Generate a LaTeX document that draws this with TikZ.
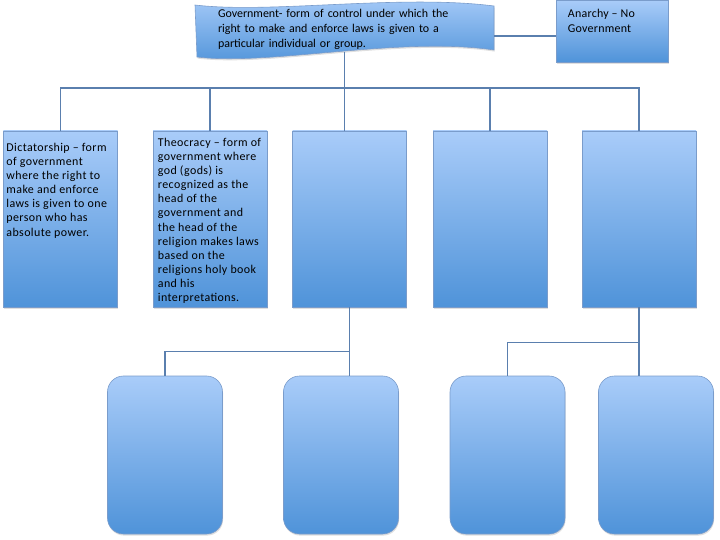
\documentclass[tikz,border=0pt]{standalone}
\usepackage{fontspec}
\setmainfont{Carlito}
\usetikzlibrary{shadows}
\definecolor{boxtop}{HTML}{A9CCF9}
\definecolor{boxbot}{HTML}{4F93D9}
\definecolor{boxedge}{HTML}{7A9CCB}
\definecolor{linkblue}{HTML}{5A7FAE}
\tikzset{
  formbox/.style={rectangle, draw=boxedge, line width=0.6bp, top color=boxtop, bottom color=boxbot,
    minimum width=114bp, minimum height=176bp, inner sep=0pt,
    drop shadow={opacity=0.25, shadow xshift=0.6bp, shadow yshift=-1.6bp}},
  subbox/.style={formbox, rounded corners=16bp, minimum width=115bp, minimum height=158bp},
  formtext/.style={anchor=north west, inner sep=0pt, align=left,
    font=\fontsize{12}{14.2}\selectfont\addfontfeatures{LetterSpace=3.5}},
  link/.style={draw=linkblue, line width=1.6bp}
}
\begin{document}
\begin{tikzpicture}[x=1bp,y=-1bp]
      \useasboundingbox (0,0) rectangle (720,540);
      \shade [top color=boxtop, bottom color=boxbot, draw=boxedge, line width=0.6bp,
        drop shadow={opacity=0.25, shadow xshift=0.6bp, shadow yshift=-1.6bp}]
        (195,5) .. controls (270,14) and (400,-6) .. (494,6) -- (494,50)
        .. controls (400,36) and (270,66) .. (197,57) -- cycle;
      \node [inner xsep=23bp, inner ysep=0pt, text width=253bp, minimum height=46bp, align=left,
        font=\fontsize{12}{15}\selectfont] (gov) at (344.5,29)
        {Government- form of control under which the\\right to make and enforce laws is given to a\\particular individual or group.};
      \node [formbox, minimum width=112bp, minimum height=62bp] (anarchy) at (612,31) {};
      \node [formtext, font=\fontsize{12}{15}\selectfont\addfontfeatures{LetterSpace=2}] (anarchytext)
        at ([shift={(12bp,-9.5bp)}]anarchy.north west) {Anarchy -- No\\Government};
      \node [formbox] (d1) at (60.5,219) {};
      \node [formbox] (d2) at (210,219) {};
      \node [formbox] (d3) at (349.5,219) {};
      \node [formbox] (d4) at (490,219) {};
      \node [formbox] (d5) at (639,219) {};
      \node [formtext] (t1) at ([shift={(3bp,-12bp)}]d1.north west)
        {Dictatorship -- form\\of government\\where the right to\\make and enforce\\laws is given to one\\person who has\\absolute power.};
      \node [formtext] (t2) at ([shift={(5bp,-7bp)}]d2.north west)
        {Theocracy -- form of\\government where\\god (gods) is\\recognized as the\\head of the\\government and\\the head of the\\religion makes laws\\based on the\\religions holy book\\and his\\interpretations.};
      \node [subbox] (s1) at (165,455) {};
      \node [subbox] (s2) at (341,455) {};
      \node [subbox] (s3) at (507.5,455) {};
      \node [subbox] (s4) at (656,455) {};
      \draw [link] ([yshift=-7bp]gov.east) -- ([yshift=-7bp]gov.east -| anarchy.west);
      \coordinate (bus) at ([yshift=-36bp]gov.south);
      \draw [link] (gov.south) -- (gov.south |- d3.north);
      \draw [link] (d1.north) |- (bus) -| (d5.north);
      \foreach \n in {d2,d4}
        \draw [link] (\n.north) -- (\n.north |- bus);
      \draw [link] (d3.south) -- (d3.south |- s2.north);
      \coordinate (j3) at ([yshift=-44bp]d3.south);
      \draw [link] (j3) -| (s1.north);
      \draw [link] (d5.south) -- (d5.south |- s4.north);
      \coordinate (j5) at ([yshift=-35bp]d5.south);
      \draw [link] (j5) -| (s3.north);
    \end{tikzpicture}
\end{document}
